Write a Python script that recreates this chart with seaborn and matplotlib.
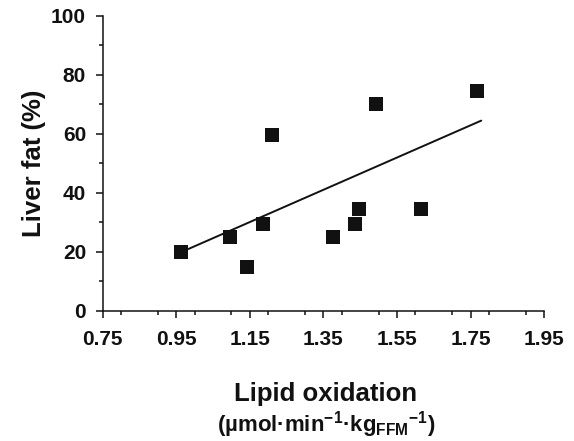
"""
Liver fat vs lipid oxidation scatter with a fitted line
"""
import matplotlib
matplotlib.use('Agg')
import matplotlib.pyplot as plt
import seaborn as sns
from matplotlib.ticker import MultipleLocator

# values
lipid_ox = [0.963, 1.097, 1.141, 1.187, 1.209, 1.375, 1.437, 1.448, 1.492, 1.614, 1.767]
liver_fat = [20, 25, 15, 29.5, 59.5, 25, 29.5, 34.5, 70, 34.5, 74.5]

# end points of the drawn trend line
fit_x = [0.983, 1.779]
fit_y = [21.0, 64.5]

x_ticks = [0.75, 0.95, 1.15, 1.35, 1.55, 1.75, 1.95]
y_ticks = [0, 20, 40, 60, 80, 100]

sns.set_style('ticks')
plt.rcParams['font.family'] = ['Liberation Sans', 'DejaVu Sans']
plt.rcParams['font.weight'] = 'bold'
plt.rcParams['mathtext.fontset'] = 'custom'
plt.rcParams['mathtext.rm'] = 'Liberation Sans:bold'
plt.rcParams['mathtext.bf'] = 'Liberation Sans:bold'
plt.rcParams['mathtext.default'] = 'rm'

fig = plt.figure(figsize=(5.74, 4.41), dpi=100)
ax = fig.add_axes([0.179, 0.295, 0.769, 0.669])

sns.lineplot(x=fit_x, y=fit_y, ax=ax, color='#111111', linewidth=1.4)
sns.scatterplot(x=lipid_ox, y=liver_fat, ax=ax, marker='s', s=115,
                color='#111111', edgecolor='#111111', linewidth=0, zorder=3)

ax.set_xlim(0.75, 1.95)
ax.set_ylim(0, 100)
ax.set_xticks(x_ticks)
ax.set_xticklabels([f'{t:.2f}' for t in x_ticks])
ax.set_yticks(y_ticks)
ax.xaxis.set_minor_locator(MultipleLocator(0.1))
ax.yaxis.set_minor_locator(MultipleLocator(10))
ax.tick_params(axis='both', which='major', direction='out', length=5, width=1.1,
               labelsize=15, color='#111111', labelcolor='#111111')
ax.tick_params(axis='x', which='major', pad=9)
ax.tick_params(axis='y', which='major', pad=7)
ax.tick_params(axis='both', which='minor', direction='out', length=3, width=1.1,
               color='#111111')
for lab in ax.get_xticklabels() + ax.get_yticklabels():
    lab.set_fontweight('bold')

sns.despine(ax=ax)
for side in ['left', 'bottom']:
    ax.spines[side].set_linewidth(1.1)
    ax.spines[side].set_color('#111111')

ax.set_ylabel('Liver fat (%)', fontsize=18.5, fontweight='bold', color='#111111', labelpad=4)
ax.set_xlabel('')
fig.text(0.568, 0.091, 'Lipid oxidation', ha='center', va='baseline',
         fontsize=18.5, fontweight='bold', color='#111111')
fig.text(0.568, 0.022, r'(µmol·min$^{-1}$·kg$_{\mathrm{FFM}}$$^{-1}$)', ha='center', va='baseline',
         fontsize=16, fontweight='bold', color='#111111')

plt.savefig('out.png', dpi=100)
